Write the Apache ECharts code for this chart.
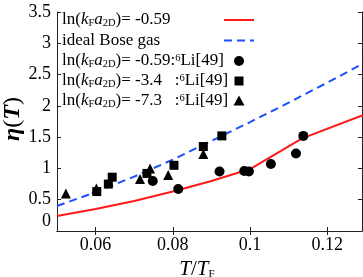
<!DOCTYPE html>
<html><head><meta charset="utf-8">
<script src="https://cdn.jsdelivr.net/npm/echarts@6/dist/echarts.min.js"></script>
<style>html,body{margin:0;padding:0;background:#fff}#c{width:363px;height:277px}</style>
</head><body><div id="c"></div>
<script>
// ---- data ----
const interactingX = [0.05, 0.06, 0.07, 0.08, 0.09, 0.10, 0.1135, 0.13];
const etaInteracting = [0.24, 0.35, 0.48, 0.63, 0.80, 0.99, 1.48, 1.87]; // ln(kF a2D) = -0.59
const idealX = [0.05, 0.06, 0.07, 0.08, 0.09, 0.10, 0.11, 0.12, 0.13];
const etaIdealBose = [0.40, 0.62, 0.87, 1.14, 1.44, 1.74, 2.05, 2.37, 2.70];
const circlesX = [0.0748, 0.0814, 0.0921, 0.0985, 0.0997, 0.1054, 0.1119, 0.1138];
const circlesY = [0.80, 0.67, 0.95, 0.96, 0.95, 1.07, 1.24, 1.52];
const squaresX = [0.0603, 0.0633, 0.0643, 0.0733, 0.0803, 0.0879, 0.0927];
const squaresY = [0.63, 0.75, 0.86, 0.92, 1.05, 1.35, 1.52];
const trianglesX = [0.0523, 0.0602, 0.0715, 0.0741, 0.0788, 0.0879];
const trianglesY = [0.60, 0.68, 0.83, 1.00, 0.895, 1.23];
const xTicks = [0.06, 0.08, 0.10, 0.12];
const seriesNames = ['ln(kFa2D)= -0.59', 'ideal Bose gas', 'ln(kFa2D)= -0.59:6Li[49]', 'ln(kFa2D)= -3.4  :6Li[49]', 'ln(kFa2D)= -7.3  :6Li[49]'];

const FONT = 'Liberation Serif';
const RED = '#ff1a1a', BLUE = '#1a4fff';
const zip = (xs, ys) => xs.map((x, i) => [x, ys[i]]);

const lnPart = '{n|ln(}{i|k}{s|F}{i|a}{s|2D}';
const legendTexts = [
  lnPart + '{n|)= -0.59}',
  '{n|ideal Bose gas}',
  lnPart + '{n|)= -0.59:}{p|6}{n|Li[49]}',
  lnPart + '{n|)= -3.4   :}{p|6}{n|Li[49]}',
  lnPart + '{n|)= -7.3   :}{p|6}{n|Li[49]}'
];
const LF = 17;
const richLegend = {
  n: {fontFamily: FONT, fontSize: LF, fill: '#000', lineHeight: 17},
  i: {fontFamily: FONT, fontSize: LF, fontStyle: 'italic', fill: '#000', lineHeight: 17},
  s: {fontFamily: FONT, fontSize: 10.5, fill: '#000', verticalAlign: 'bottom', lineHeight: 10},
  p: {fontFamily: FONT, fontSize: 10.5, fill: '#000', verticalAlign: 'top', lineHeight: 10}
};
const rowY = [20, 40.5, 61, 81, 101];
const graphics = [];
legendTexts.forEach((t, k) => {
  graphics.push({type: 'text', x: 62, y: rowY[k], silent: true,
    style: {text: t, x: 0, y: 0, verticalAlign: 'middle', align: 'left', fontFamily: FONT, fontSize: LF, fill: '#000', rich: richLegend}});
});
graphics.push({type: 'line', silent: true, shape: {x1: 224, y1: rowY[0], x2: 254, y2: rowY[0]}, style: {stroke: RED, lineWidth: 2}});
graphics.push({type: 'line', silent: true, shape: {x1: 224, y1: rowY[1], x2: 254, y2: rowY[1]}, style: {stroke: BLUE, lineWidth: 2, lineDash: [8, 5]}});
graphics.push({type: 'circle', silent: true, shape: {cx: 239, cy: rowY[2], r: 5}, style: {fill: '#000'}});
graphics.push({type: 'rect', silent: true, shape: {x: 234.5, y: rowY[3] - 4.5, width: 9, height: 9}, style: {fill: '#000'}});
graphics.push({type: 'polygon', silent: true, shape: {points: [[239, rowY[4] - 5.5], [244.5, rowY[4] + 4.5], [233.5, rowY[4] + 4.5]]}, style: {fill: '#000'}});
// y-axis title
graphics.push({type: 'text', x: 13, y: 119, rotation: Math.PI / 2, silent: true,
  style: {text: '{i|η}{n|(}{i|T}{n|)}', x: 0, y: 0, align: 'center', verticalAlign: 'middle',
    fontFamily: FONT, fontSize: 24, fill: '#000',
    rich: {i: {fontFamily: FONT, fontSize: 24, fontStyle: 'italic', fontWeight: 'bold', fill: '#000'},
           n: {fontFamily: FONT, fontSize: 24, fill: '#000'}}}});

const chart = echarts.init(document.getElementById('c'), null, {renderer: 'canvas'});
const axisLine = {show: true, lineStyle: {color: '#222', width: 1}};
chart.setOption({
  animation: false,
  backgroundColor: '#fff',
  grid: {left: 57, right: 1, top: 12, bottom: 46, containLabel: false, outerBoundsMode: 'none'},
  graphic: graphics,
  xAxis: [{
    type: 'value', min: 0.05, max: 0.129,
    name: '{i|T}{n|/}{i|T}{s|F}', nameLocation: 'middle', nameGap: 28,
    nameTextStyle: {fontFamily: FONT, fontSize: 20, color: '#000', padding: [0, 25, 0, 0],
      rich: {i: {fontFamily: FONT, fontSize: 21, fontStyle: 'italic', color: '#000'},
             n: {fontFamily: FONT, fontSize: 21, color: '#000'},
             s: {fontFamily: FONT, fontSize: 11, color: '#000', verticalAlign: 'bottom', padding: [8, 0, 0, 0]}}},
    axisLine: axisLine,
    axisTick: {show: true, inside: true, length: 4, customValues: xTicks, lineStyle: {color: '#222'}},
    axisLabel: {customValues: xTicks, fontFamily: FONT, fontSize: 18, color: '#000', margin: 5,
      formatter: v => String(Math.round(v * 100) / 100)},
    splitLine: {show: false}
  }, {
    type: 'value', min: 0.05, max: 0.129, position: 'top',
    axisLine: axisLine,
    axisTick: {show: true, inside: true, length: 4, customValues: xTicks, lineStyle: {color: '#222'}},
    axisLabel: {show: false}, splitLine: {show: false}
  }],
  yAxis: [{
    type: 'value', min: 0, max: 3.5, interval: 0.5,
    axisLine: axisLine,
    axisTick: {show: true, inside: true, length: 4, lineStyle: {color: '#222'}},
    axisLabel: {fontFamily: FONT, fontSize: 18, color: '#000', margin: 6,
      formatter: v => v === 0 ? '{z|0}' : String(v),
      rich: {z: {fontFamily: FONT, fontSize: 18, color: '#000', padding: [0, 0, 20, 0]}}},
    splitLine: {show: false}
  }, {
    type: 'value', min: 0, max: 3.5, interval: 0.5, position: 'right',
    axisLine: axisLine,
    axisTick: {show: true, inside: true, length: 4, lineStyle: {color: '#222'}},
    axisLabel: {show: false}, splitLine: {show: false}
  }],
  series: [
    {name: seriesNames[0], type: 'line', data: zip(interactingX, etaInteracting), symbol: 'none', smooth: false,
     lineStyle: {color: RED, width: 2}, itemStyle: {color: RED}, z: 2},
    {name: seriesNames[1], type: 'line', data: zip(idealX, etaIdealBose), symbol: 'none', smooth: false,
     lineStyle: {color: BLUE, width: 2, type: [8, 5]}, itemStyle: {color: BLUE}, z: 2},
    {name: seriesNames[2], type: 'scatter', data: zip(circlesX, circlesY), symbol: 'circle', symbolSize: 10,
     itemStyle: {color: '#000', opacity: 1}, z: 3},
    {name: seriesNames[3], type: 'scatter', data: zip(squaresX, squaresY), symbol: 'rect', symbolSize: 9,
     itemStyle: {color: '#000', opacity: 1}, z: 3},
    {name: seriesNames[4], type: 'scatter', data: zip(trianglesX, trianglesY), symbol: 'triangle', symbolSize: 10,
     itemStyle: {color: '#000', opacity: 1}, z: 3}
  ]
});
</script></body></html>
